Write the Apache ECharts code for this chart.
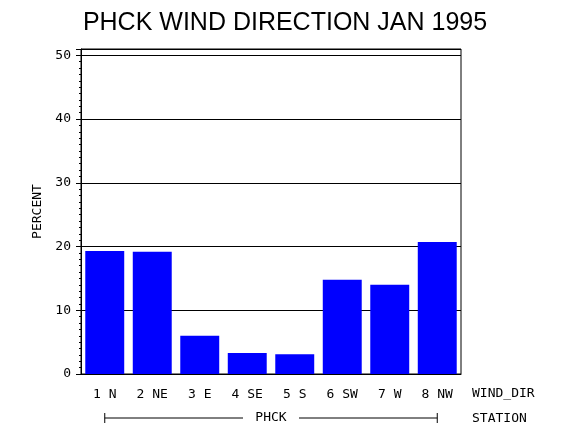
<!DOCTYPE html>
<html>
<head>
<meta charset="utf-8">
<script src="https://cdn.jsdelivr.net/npm/echarts@6/dist/echarts.min.js"></script>
<style>
  html, body { margin: 0; padding: 0; background: #fff; }
  #chart { width: 570px; height: 430px; }
</style>
</head>
<body>
<div id="chart"></div>
<script>
// data
const chartTitle = 'PHCK WIND DIRECTION JAN 1995';
const directions = ['1 N', '2 NE', '3 E', '4 SE', '5 S', '6 SW', '7 W', '8 NW'];
const percent = [19.3, 19.2, 6.0, 3.3, 3.1, 14.8, 14.0, 20.7];
const yTicks = [0, 10, 20, 30, 40, 50];
const stationName = 'PHCK';

const mono = '"DejaVu Sans Mono", "Liberation Mono", monospace';

const chart = echarts.init(document.getElementById('chart'), null, { renderer: 'canvas' });

chart.setOption({
  animation: false,
  backgroundColor: '#fff',
  title: {
    text: chartTitle,
    left: 'center',
    top: 6,
    textStyle: { fontFamily: '"Liberation Sans", Arial, sans-serif', fontWeight: 'normal', fontSize: 25, color: '#000' }
  },
  grid: {
    left: 81, right: 109, top: 49, bottom: 56,
    show: true, borderColor: '#000', borderWidth: 1
  },
  xAxis: {
    type: 'category',
    data: directions,
    axisLine: { lineStyle: { color: '#000', width: 1 } },
    axisTick: { show: false },
    axisLabel: { color: '#000', fontFamily: mono, fontSize: 13, margin: 14, interval: 0 }
  },
  yAxis: {
    type: 'value',
    min: 0,
    max: 51,
    interval: 10,
    name: 'PERCENT',
    nameLocation: 'middle',
    nameGap: 36,
    nameTextStyle: { color: '#000', fontFamily: mono, fontSize: 13 },
    axisLine: { show: true, lineStyle: { color: '#000', width: 1 } },
    axisTick: { show: true, length: 5, lineStyle: { color: '#000' } },
    minorTick: { show: true, splitNumber: 10, length: 2, lineStyle: { color: '#000' } },
    splitLine: { show: true, lineStyle: { color: '#000', width: 1 } },
    axisLabel: {
      color: '#000', fontFamily: mono, fontSize: 13, margin: 10,
      formatter: v => (yTicks.indexOf(v) >= 0 ? String(v) : '')
    }
  },
  series: [{
    type: 'bar',
    data: percent,
    barCategoryGap: '18%',
    itemStyle: { color: '#0000ff' }
  }]
});

// station bracket under the category labels, anchored to the first and last bars
const xa = chart.convertToPixel({ xAxisIndex: 0 }, directions[0]);
const xb = chart.convertToPixel({ xAxisIndex: 0 }, directions[directions.length - 1]);
const mid = (xa + xb) / 2;
const by = 418;
const lineStyle = { stroke: '#000', lineWidth: 1 };
chart.setOption({
  graphic: [
    { type: 'line', shape: { x1: xa, y1: by, x2: mid - 28, y2: by }, style: lineStyle },
    { type: 'line', shape: { x1: mid + 28, y1: by, x2: xb, y2: by }, style: lineStyle },
    { type: 'line', shape: { x1: xa, y1: by - 5, x2: xa, y2: by + 5 }, style: lineStyle },
    { type: 'line', shape: { x1: xb, y1: by - 5, x2: xb, y2: by + 5 }, style: lineStyle },
    { type: 'text', x: mid, y: by, style: { text: stationName, font: '13px ' + mono, fill: '#000', align: 'center', verticalAlign: 'middle' } },
    { type: 'text', x: 472, y: 394, style: { text: 'WIND_DIR', font: '13px ' + mono, fill: '#000', align: 'left', verticalAlign: 'middle' } },
    { type: 'text', x: 472, y: by + 1, style: { text: 'STATION', font: '13px ' + mono, fill: '#000', align: 'left', verticalAlign: 'middle' } }
  ]
});
</script>
</body>
</html>
